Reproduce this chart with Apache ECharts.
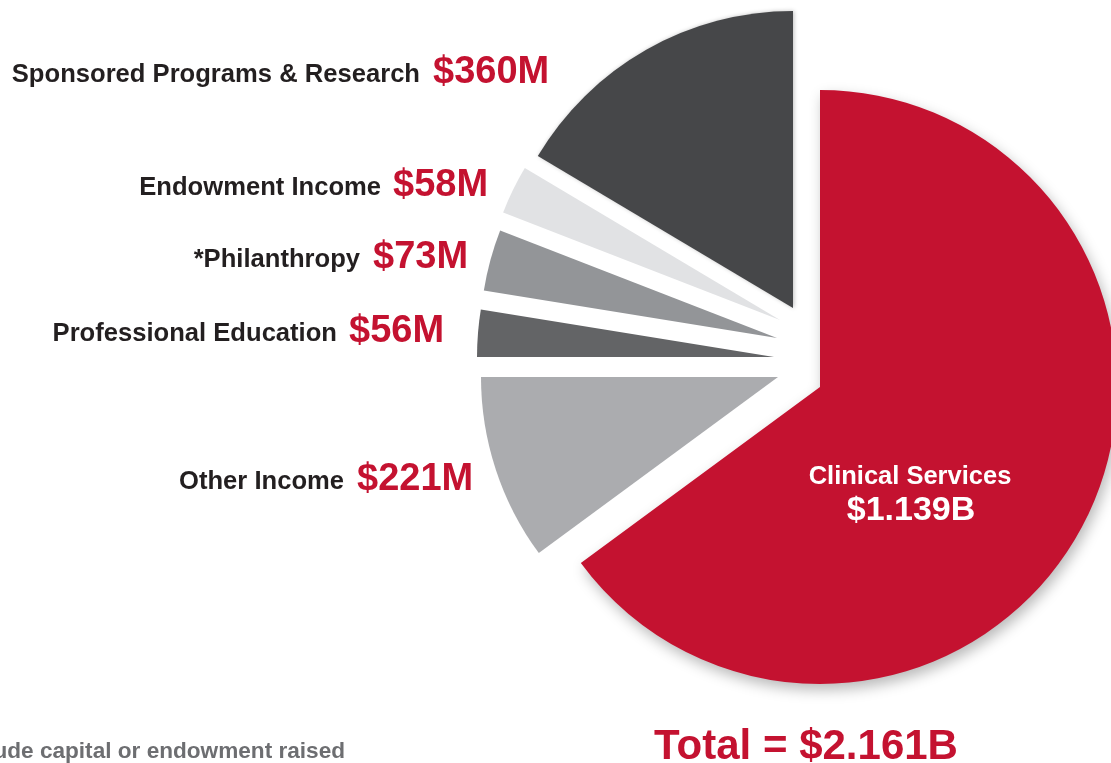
<!DOCTYPE html>
<html>
<head>
<meta charset="utf-8">
<script src="https://cdn.jsdelivr.net/npm/echarts@6/dist/echarts.min.js"></script>
<style>
html,body{margin:0;padding:0;background:#fff;}
#c{width:1111px;height:763px;}
</style>
</head>
<body>
<div id="c"></div>
<script>
// Data (clockwise from 12 o'clock)
const categories = ['Clinical Services', 'Other Income', 'Professional Education', '*Philanthropy', 'Endowment Income', 'Sponsored Programs & Research'];
// slice sizes as drawn in the picture ($M, Clinical slice size estimated from its angle)
const values = [1420, 221, 56, 73, 58, 360];
const valueLabels = ['$1.139B', '$221M', '$56M', '$73M', '$58M', '$360M'];
const totalLabel = 'Total = $2.161B';
const footnote = '*Philanthropy does not include capital or endowment raised';

const colors = ['#c41230', '#abacaf', '#636466', '#939598', '#e1e2e4', '#464749'];
// exploded apex of each slice (layout)
const centers = [[820, 387], [778, 377], [774, 357], [777, 338], [780, 320], [793, 308]];
const R = 297;

const series = categories.map((cat, k) => ({
  type: 'pie',
  silent: true,
  animation: false,
  center: centers[k],
  radius: [0, R],
  startAngle: 90,
  clockwise: true,
  z: k === 0 ? 1 : 2,
  label: { show: false },
  labelLine: { show: false },
  emphasis: { disabled: true },
  data: categories.map((c, i) => ({
    name: c,
    value: values[i],
    itemStyle: i === k ? (k === 0 ? {
      color: colors[i], shadowBlur: 14, shadowColor: 'rgba(0,0,0,0.28)', shadowOffsetX: 3, shadowOffsetY: 6
    } : (k === 5 ? { color: colors[i], shadowBlur: 4, shadowColor: 'rgba(0,0,0,0.25)', shadowOffsetX: 1 } : { color: colors[i] }))
      : { color: 'rgba(0,0,0,0)', borderWidth: 0 }
  }))
}));

const FONT = '"Liberation Sans", Arial, Helvetica, sans-serif';
// label layout: [index, nameRightX, valueLeftX, nameY, valueY]
const labelPos = [
  [5, 420, 433, 75, 73],
  [4, 381, 393, 188, 186],
  [3, 360, 373, 260, 258],
  [2, 337, 349, 334, 332],
  [1, 344, 357, 482, 480]
];
const graphics = [];
labelPos.forEach(([i, nx, vx, ny, vy]) => {
  graphics.push({ type: 'text', x: nx, y: ny, silent: true,
    style: { text: categories[i], fill: '#231f20', font: 'bold 25.6px ' + FONT, align: 'right', verticalAlign: 'middle' } });
  graphics.push({ type: 'text', x: vx, y: vy, silent: true,
    style: { text: valueLabels[i], fill: '#c41230', font: 'bold 38px ' + FONT, align: 'left', verticalAlign: 'middle' } });
});
graphics.push({ type: 'text', x: 910, y: 477, silent: true, z: 10,
  style: { text: categories[0], fill: '#fff', font: 'bold 25.5px ' + FONT, align: 'center', verticalAlign: 'middle' } });
graphics.push({ type: 'text', x: 911, y: 511, silent: true, z: 10,
  style: { text: valueLabels[0], fill: '#fff', font: 'bold 34px ' + FONT, align: 'center', verticalAlign: 'middle' } });
graphics.push({ type: 'text', x: 806, y: 747, silent: true,
  style: { text: totalLabel, fill: '#c41230', font: 'bold 42px ' + FONT, align: 'center', verticalAlign: 'middle' } });
graphics.push({ type: 'text', x: 345, y: 752, silent: true,
  style: { text: footnote, fill: '#6d6e71', font: 'bold 22.6px ' + FONT, align: 'right', verticalAlign: 'middle' } });

const chart = echarts.init(document.getElementById('c'), null, { renderer: 'canvas' });
chart.setOption({
  backgroundColor: '#fff',
  animation: false,
  series: series,
  graphic: graphics
});
</script>
</body>
</html>
